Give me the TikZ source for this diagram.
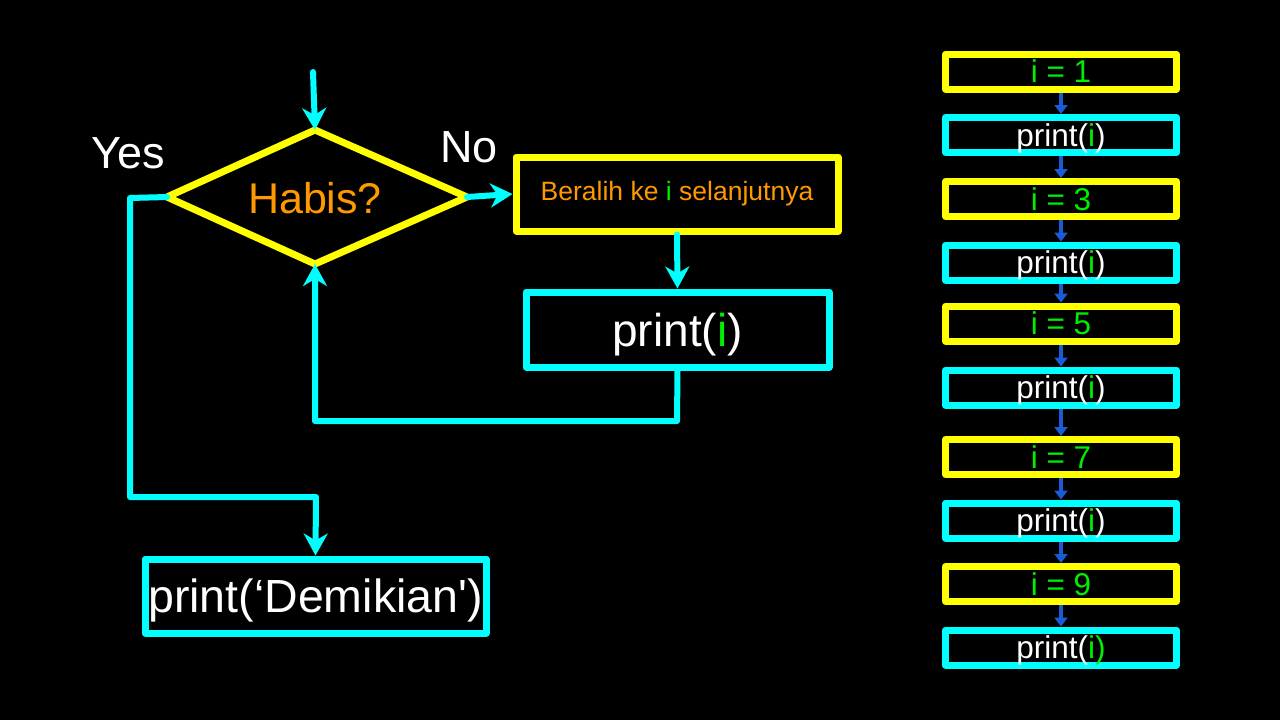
\documentclass[tikz,border=0pt]{standalone}
\usepackage{fontspec}
\setmainfont{Liberation Sans}
\newfontfamily\plainfont{Liberation Sans}
\usetikzlibrary{arrows.meta}
\definecolor{cyanc}{RGB}{0,255,255}
\definecolor{yellowc}{RGB}{255,255,0}
\definecolor{orangec}{RGB}{255,153,0}
\definecolor{greenc}{RGB}{0,238,0}
\definecolor{bluec}{RGB}{24,92,214}
\newcommand{\fs}[1]{\fontsize{#1}{#1}\selectfont}
\tikzset{
  ybox/.style={draw=yellowc, line width=7pt, line join=round, rectangle, inner sep=0pt},
  cbox/.style={draw=cyanc, line width=7pt, line join=round, rectangle, inner sep=0pt, text depth=0pt},
  smallbox/.style={minimum width=231pt, minimum height=35pt, font=\fs{31.5}},
  flow/.style={draw=cyanc, line width=6pt, line join=round, line cap=round},
  flowarrow/.style={flow, -{Stealth[length=22pt,width=24pt,inset=7pt]}},
  seqarrow/.style={draw=bluec, line width=4pt, -{Triangle[length=9pt,width=13pt]}},
  lbl/.style={text=white, font=\fs{45}, inner sep=0pt}
}
\begin{document}
\begin{tikzpicture}[x=1pt,y=-1pt]
\fill[black] (0,0) rectangle (1280,720);
\useasboundingbox (0,0) rectangle (1280,720);

% decision diamond
\coordinate (dtop) at (315,130);
\coordinate (dbot) at (315,264);
\coordinate (dleft) at (167,197);
\coordinate (dright) at (467,197);
\draw[draw=yellowc, line width=7pt, line join=round] (dtop) -- (dright) -- (dbot) -- (dleft) -- cycle;
\node[text=orangec, font=\fs{43}, inner sep=0pt] (dia) at (315,198) {Habis?};

\node[ybox, minimum width=322pt, minimum height=74pt, text=orangec, font=\fs{26.5}] (ber) at (677,194)
  {Beralih ke \textcolor{greenc}{i} selanjutnya};
\node[cbox, minimum width=303pt, minimum height=75pt, text=white, font=\fs{46}] (pr) at (677.5,329.5)
  {print(\textcolor{greenc}{i})};
\node[cbox, minimum width=341pt, minimum height=74pt, text=white, font=\fs{46.5}] (dem) at (315.5,596)
  {print(‘Demikian{\plainfont'})};

\node[lbl] (yes) at (128,153) {Yes};
\node[lbl] (no) at (469,147) {No};

\coordinate (start) at (313,72);
\draw[flowarrow] (start) -- (dtop);
\draw[flowarrow] (dright) -- (ber.west);
\draw[flowarrow] (ber.south) -- (pr.north);
\coordinate (loopc) at (677,421);
\draw[flowarrow] (pr.south) -- (loopc) -| (dbot);
\coordinate (yesa) at (130,198);
\coordinate (yesb) at (130,497);
\coordinate (yesc) at (316,497);
\draw[flowarrow] (dleft) -- (yesa) -- (yesb) -- (yesc) -- (dem.north);

% right column sequence
\node[ybox, smallbox, text=greenc] (s1) at (1061,71.5) {i = 1};
\node[cbox, smallbox, text=white] (s2) at (1061,135) {print(\textcolor{greenc}{i})};
\node[ybox, smallbox, text=greenc] (s3) at (1061,199) {i = 3};
\node[cbox, smallbox, text=white] (s4) at (1061,262.5) {print(\textcolor{greenc}{i})};
\node[ybox, smallbox, text=greenc] (s5) at (1061,323.5) {i = 5};
\node[cbox, smallbox, text=white] (s6) at (1061,387.5) {print(\textcolor{greenc}{i})};
\node[ybox, smallbox, text=greenc] (s7) at (1061,457) {i = 7};
\node[cbox, smallbox, text=white] (s8) at (1061,520.5) {print(\textcolor{greenc}{i})};
\node[ybox, smallbox, text=greenc] (s9) at (1061,584) {i = 9};
\node[cbox, smallbox, text=white] (s10) at (1061,647.5) {print(\textcolor{greenc}{i)}};

\foreach \a/\b in {s1/s2,s2/s3,s3/s4,s4/s5,s5/s6,s6/s7,s7/s8,s8/s9,s9/s10}
  \draw[seqarrow] (\a.south) -- (\b.north);
\end{tikzpicture}
\end{document}
